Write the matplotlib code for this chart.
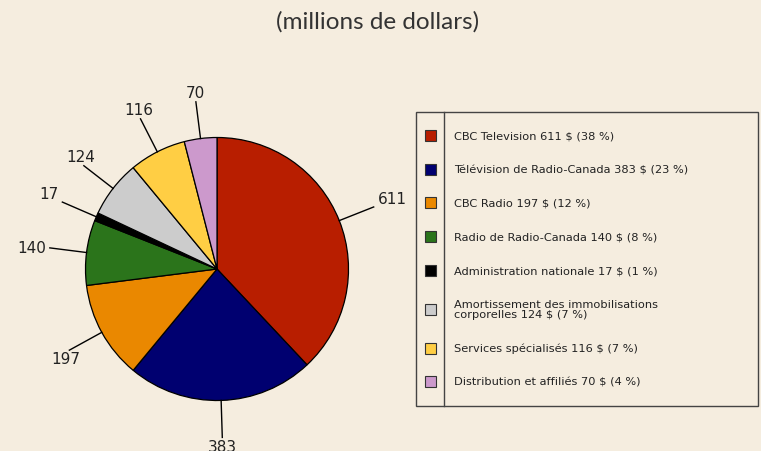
import numpy as np
import matplotlib.pyplot as plt
from matplotlib.patches import Rectangle

plt.rcParams['font.family'] = ['DejaVu Sans']

values = [611, 383, 197, 140, 17, 124, 116, 70]
percents = [38, 23, 12, 8, 1, 7, 7, 4]
names = ["CBC Television 611 $ (38 %)",
         "Télévision de Radio-Canada 383 $ (23 %)",
         "CBC Radio 197 $ (12 %)",
         "Radio de Radio-Canada 140 $ (8 %)",
         "Administration nationale 17 $ (1 %)",
         "Amortissement des immobilisations\ncorporelles 124 $ (7 %)",
         "Services spécialisés 116 $ (7 %)",
         "Distribution et affiliés 70 $ (4 %)"]
colors = ["#b81e00", "#000070", "#ea8800", "#2b741b", "#000000",
          "#cccccc", "#ffce44", "#cc99cc"]

W, H = 761, 452
bg = "#f5eddf"
fig = plt.figure(figsize=(W / 100, H / 100), dpi=100, facecolor=bg)
ax = fig.add_axes([0, 0, 1, 1])

# pie drawn from the percentages, labelled with the dollar values
cx, cy, r = 217, H - 270, 131.5
wedges, _ = ax.pie(percents, colors=colors, startangle=90, counterclock=False,
                   center=(cx, cy), radius=r,
                   wedgeprops=dict(edgecolor='black', linewidth=0.9))
ax.set_xlim(0, W)
ax.set_ylim(0, H)
ax.set_aspect('equal')
ax.axis('off')

for w, v in zip(wedges, values):
    a = np.deg2rad((w.theta1 + w.theta2) / 2)
    dx, dy = np.cos(a), np.sin(a)
    x0, y0 = cx + r * dx, cy + r * dy
    x1, y1 = cx + (r + 37) * dx, cy + (r + 37) * dy
    ax.plot([x0, x1], [y0, y1], color='black', lw=1)
    ha = 'left' if dx > 0.9 else ('right' if dx < -0.9 else 'center')
    va = 'bottom' if dy > 0.3 else ('top' if dy < -0.3 else 'center')
    ax.text(x1 + 4 * dx, y1 + 2 * dy, str(v), fontsize=11, ha=ha, va=va, color='#222222')

ax.text(378, H - 22, "(millions de dollars)", fontsize=17.5, ha='center', va='center',
        color='#333333', family=['Lato', 'DejaVu Sans'])

# legend
ax.add_patch(Rectangle((416.5, H - 407), 342, 294.5, facecolor='none', edgecolor='#444444', lw=1))
ax.plot([444.3, 444.3], [H - 407, H - 112.5], color='#444444', lw=1)
heights = [33.6 + 10.8 * n.count("\n") for n in names]
y = 136.7
for i, (c, n) in enumerate(zip(colors, names)):
    if i > 0:
        y += (heights[i - 1] + heights[i]) / 2
    ax.add_patch(Rectangle((425, H - y - 5.5), 11, 11, facecolor=c, edgecolor='#333333', lw=0.8))
    ax.text(454.3, H - y, n, fontsize=8.2, ha='left', va='center', color='#222222',
            linespacing=0.95)

fig.savefig("out.png", dpi=100, facecolor=bg)
